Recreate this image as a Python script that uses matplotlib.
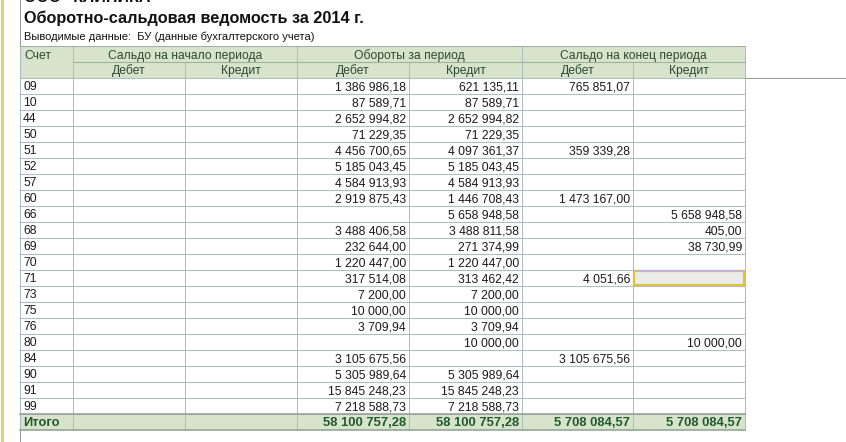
import matplotlib
matplotlib.use("Agg")
import matplotlib.pyplot as plt
from matplotlib.patches import Rectangle

plt.rcParams['font.family'] = ['Liberation Sans', 'DejaVu Sans']

# ---------------- data ----------------
company = 'ООО "КЛИНИКА"'
title = "Оборотно-сальдовая ведомость за 2014 г."
subtitle = "Выводимые данные:  БУ (данные бухгалтерского учета)"
group_labels = ["Сальдо на начало периода", "Обороты за период", "Сальдо на конец периода"]
sub_labels = ["Дебет", "Кредит"]
first_col = "Счет"
total_label = "Итого"

accounts = ["09", "10", "44", "50", "51", "52", "57", "60", "66", "68", "69",
            "70", "71", "73", "75", "76", "80", "84", "90", "91", "99"]
open_debit = [None] * 21
open_credit = [None] * 21
turn_debit = [1386986.18, 87589.71, 2652994.82, 71229.35, 4456700.65, 5185043.45,
              4584913.93, 2919875.43, None, 3488406.58, 232644.00, 1220447.00,
              317514.08, 7200.00, 10000.00, 3709.94, None, 3105675.56, 5305989.64,
              15845248.23, 7218588.73]
turn_credit = [621135.11, 87589.71, 2652994.82, 71229.35, 4097361.37, 5185043.45,
               4584913.93, 1446708.43, 5658948.58, 3488811.58, 271374.99, 1220447.00,
               313462.42, 7200.00, 10000.00, 3709.94, 10000.00, None, 5305989.64,
               15845248.23, 7218588.73]
close_debit = [765851.07, None, None, None, 359339.28, None, None, 1473167.00, None,
               None, None, None, 4051.66, None, None, None, None, 3105675.56, None,
               None, None]
close_credit = [None, None, None, None, None, None, None, None, 5658948.58, 405.00,
                38730.99, None, None, None, None, None, 10000.00, None, None, None, None]
totals = [None, None, 58100757.28, 58100757.28, 5708084.57, 5708084.57]
selected_row = "71"
selected_col = 5


def fmt(v):
    if v is None:
        return ""
    s = f"{v:,.2f}"
    return s.replace(",", " ").replace(".", ",")


# ---------------- layout ----------------
W, H = 846, 442
fig = plt.figure(figsize=(W / 100, H / 100), dpi=100)
ax = fig.add_axes([0, 0, 1, 1])
ax.set_xlim(0, W)
ax.set_ylim(H, 0)
ax.axis("off")

col_edges = [20, 73, 185, 297, 409, 522, 633, 745]
head_top, head_mid, data_top = 46, 62, 78
row_h = 16

grid_c = "#a9bfc3"
head_bg = "#d7e4cb"
head_txt = "#2f4a35"
data_txt = "#1a1a1a"
total_txt = "#1f5a2c"
lw = 0.75

# page decorations
ax.plot([1.5, 1.5], [0, H], color="#d9d27a", lw=2.2)
ax.plot([20, 20], [0, H], color="#9a9a9a", lw=lw)

# company name line: only its lower edge is visible at the top of the page
ax.text(24, 2.5, company, fontsize=11.5, fontweight="bold", color="#111111",
        va="baseline", ha="left", clip_on=False)
ax.text(24, 23.5, title, fontsize=11.7, fontweight="bold", color="#111111",
        va="baseline", ha="left")
ax.text(24, 39.5, subtitle, fontsize=8.0, color="#111111", va="baseline", ha="left")

fs = 8.7

# header
ax.add_patch(Rectangle((col_edges[0], head_top), col_edges[-1] - col_edges[0],
                       data_top - head_top, facecolor=head_bg, edgecolor="none"))
ax.text(col_edges[0] + 4, head_top + 13, first_col, fontsize=fs, color=head_txt,
        va="baseline", ha="left")
for g, lab in enumerate(group_labels):
    x0, x1 = col_edges[1 + 2 * g], col_edges[3 + 2 * g]
    ax.text((x0 + x1) / 2, head_top + 13, lab, fontsize=fs, color=head_txt,
            va="baseline", ha="center")
for c in range(6):
    x0, x1 = col_edges[1 + c], col_edges[2 + c]
    ax.text((x0 + x1) / 2, head_mid + 12, sub_labels[c % 2], fontsize=fs,
            color=head_txt, va="baseline", ha="center")

# data rows
columns = [open_debit, open_credit, turn_debit, turn_credit, close_debit, close_credit]
n = len(accounts)
for i, acc in enumerate(accounts):
    y0 = data_top + i * row_h
    ax.text(col_edges[0] + 3, y0 + 12, acc, fontsize=fs, color=data_txt,
            va="baseline", ha="left")
    for c, series in enumerate(columns):
        ax.text(col_edges[c + 2] - 3, y0 + 12, fmt(series[i]), fontsize=fs,
                color=data_txt, va="baseline", ha="right")

# total row
ty = data_top + n * row_h
ax.add_patch(Rectangle((col_edges[0], ty), col_edges[-1] - col_edges[0], row_h,
                       facecolor=head_bg, edgecolor="none"))
ax.text(col_edges[0] + 3, ty + 12.5, total_label, fontsize=9.3, fontweight="bold",
        color=total_txt, va="baseline", ha="left")
for c, v in enumerate(totals):
    ax.text(col_edges[c + 2] - 3, ty + 12.5, fmt(v), fontsize=9.4, fontweight="bold",
            color=total_txt, va="baseline", ha="right")

# grid lines
bottom = ty + row_h
for x in col_edges:
    top = head_top
    if x in (col_edges[2], col_edges[4], col_edges[6]):
        top = head_mid
    ax.plot([x, x], [top, bottom], color=grid_c, lw=lw)
ax.plot([col_edges[0], col_edges[-1]], [head_top, head_top], color="#9fb0a0", lw=lw)
ax.plot([col_edges[1], col_edges[-1]], [head_mid, head_mid], color="#9fb0a0", lw=lw)
for i in range(n + 1):
    y = data_top + i * row_h
    ax.plot([col_edges[0], col_edges[-1]], [y, y], color=grid_c, lw=lw)
ax.plot([col_edges[0], col_edges[-1]], [ty, ty], color="#8f9f92", lw=1.1)
ax.plot([col_edges[0], col_edges[-1]], [bottom, bottom], color="#8f9f92", lw=1.1)
ax.plot([col_edges[-1], W], [data_top, data_top], color="#9a9a9a", lw=lw)

# selected cell
si = accounts.index(selected_row)
sy = data_top + si * row_h
ax.add_patch(Rectangle((col_edges[selected_col + 1] + 1, sy + 1),
                       col_edges[selected_col + 2] - col_edges[selected_col + 1] - 2,
                       row_h - 2, facecolor="#ececec", edgecolor="#e5c234", lw=1.6))

fig.savefig("out.png", dpi=100)
